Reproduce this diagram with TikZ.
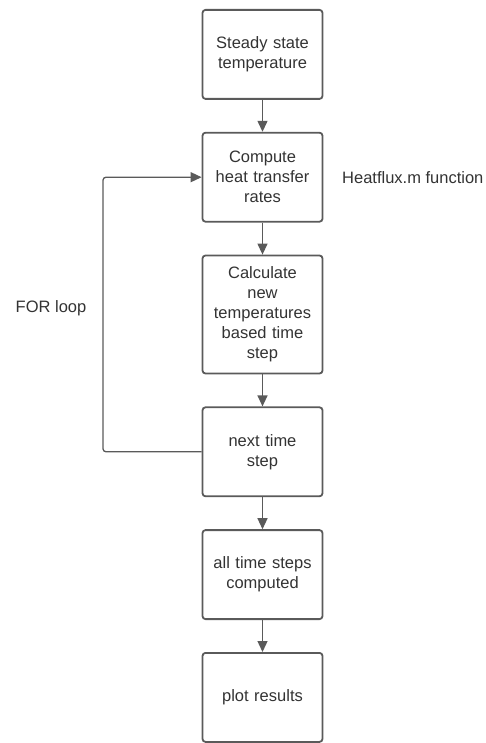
\documentclass[tikz,border=0pt]{standalone}
\usepackage{fontspec}
\setmainfont{Liberation Sans}
\usepackage{xcolor}
\usetikzlibrary{arrows.meta,positioning}
\definecolor{linegray}{HTML}{5A5A5A}
\definecolor{textgray}{HTML}{333333}
\begin{document}
\begin{tikzpicture}[
    x=1pt, y=1pt,
    node distance=32pt,
    box/.style={draw=linegray, line width=1.8pt, rounded corners=3pt, align=center,
                text width=112pt, minimum width=119pt, minimum height=89pt,
                text=textgray, font=\fontsize{16.5}{20}\selectfont, inner sep=4pt},
    label/.style={text=textgray, font=\fontsize{16.5}{20}\selectfont, inner sep=0pt},
    arrow/.style={-{Triangle[length=11pt, width=10pt]}, line width=1.3pt, draw=linegray, fill=linegray}
  ]
    \useasboundingbox (0,0) rectangle (485,-743);
    \node[box, anchor=north] (n1) at (262.5,-9) {Steady state\\temperature};
    \node[box, below=of n1] (n2) {Compute\\heat transfer\\rates};
    \node[box, below=of n2, minimum height=118pt] (n3) {Calculate\\new\\temperatures\\based time\\step};
    \node[box, below=of n3] (n4) {next time\\step};
    \node[box, below=of n4] (n5) {all time steps\\computed};
    \node[box, below=of n5] (n6) {plot results};
    \node[label, anchor=west] (hf) at (342,-178) {Heatflux.m function};
    \node[label] (forl) at (51,-308) {FOR loop};
    \coordinate (loopx) at (103,0);
    \draw[arrow] (n1) -- (n2);
    \draw[arrow] (n2) -- (n3);
    \draw[arrow] (n3) -- (n4);
    \draw[arrow] (n4) -- (n5);
    \draw[arrow] (n5) -- (n6);
    \draw[arrow, fill=none, rounded corners=3pt] (n4.west) -- (n4.west -| loopx) |- (n2.west);
  \end{tikzpicture}
\end{document}
